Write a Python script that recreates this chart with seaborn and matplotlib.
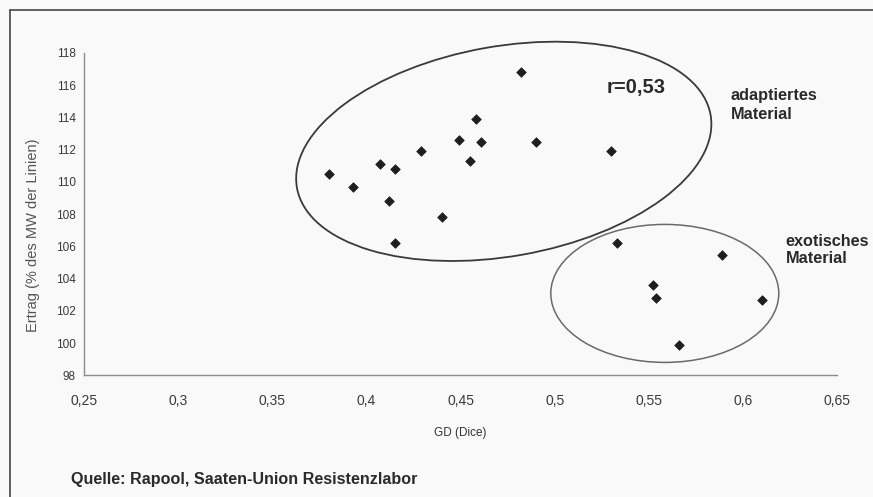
import pandas as pd
import seaborn as sns
import matplotlib.pyplot as plt
from matplotlib.patches import Ellipse
from matplotlib.lines import Line2D
from matplotlib.transforms import ScaledTranslation

# GD (Dice) against yield
gd_adapt = [0.380, 0.393, 0.407, 0.415, 0.412, 0.415, 0.429, 0.440, 0.449,
            0.458, 0.455, 0.461, 0.482, 0.490, 0.530]
ertrag_adapt = [110.5, 109.7, 111.1, 110.8, 108.8, 106.2, 111.9, 107.8, 112.6,
                113.9, 111.3, 112.5, 116.8, 112.5, 111.9]
gd_exot = [0.533, 0.589, 0.552, 0.554, 0.566, 0.610]
ertrag_exot = [106.2, 105.5, 103.6, 102.8, 99.9, 102.7]

x_ticks = [0.25, 0.3, 0.35, 0.4, 0.45, 0.5, 0.55, 0.6, 0.65]
x_ticklabels = ["0,25", "0,3", "0,35", "0,4", "0,45", "0,5", "0,55", "0,6", "0,65"]
y_ticks = list(range(98, 119, 2))

df = pd.DataFrame({
    "gd": gd_adapt + gd_exot,
    "ertrag": ertrag_adapt + ertrag_exot,
})

sns.set_style("white")
plt.rcParams["font.family"] = ["Liberation Sans", "DejaVu Sans"]

bg = "#f9f9f9"
fig = plt.figure(figsize=(8.73, 4.97), dpi=100, facecolor=bg)
ax = fig.add_axes([0.0962, 0.2445, 0.8629, 0.6489])
ax.set_facecolor(bg)

sns.scatterplot(data=df, x="gd", y="ertrag", marker="D", s=24, color="#1e1e1e",
                edgecolor="#1e1e1e", linewidth=0.5, ax=ax, zorder=3)

ax.set_xlim(0.25, 0.65)
ax.set_ylim(98, 118)
ax.set_xticks(x_ticks)
ax.set_xticklabels(x_ticklabels)
ax.set_yticks(y_ticks)

for side in ["top", "right"]:
    ax.spines[side].set_visible(False)
for side in ["left", "bottom"]:
    ax.spines[side].set_color("#8a8a8a")
    ax.spines[side].set_linewidth(1.0)

ax.tick_params(axis="both", direction="out", length=4, width=0.9, color="#8a8a8a",
               labelcolor="#3a3a3a", pad=3)
ax.tick_params(axis="x", labelsize=10, pad=9)
ax.tick_params(axis="y", labelsize=8.5, pad=2)

ax.set_xlabel("GD (Dice)", fontsize=8.5, color="#333333", labelpad=14)
ax.set_ylabel("Ertrag (% des MW der Linien)", fontsize=10.5, color="#555555")
ax.yaxis.set_label_coords(-0.058, 0.436)

# cluster ellipses: centre in data units, size in inches
big = Ellipse((0, 0), 4.2, 2.1, angle=10, fill=False, edgecolor="#3a3a3a", lw=1.3,
              clip_on=False,
              transform=fig.dpi_scale_trans + ScaledTranslation(0.4729, 111.9, ax.transData))
small = Ellipse((0, 0), 2.28, 1.38, angle=0, fill=False, edgecolor="#6a6a6a", lw=1.1,
                clip_on=False,
                transform=fig.dpi_scale_trans + ScaledTranslation(0.5584, 103.09, ax.transData))
ax.add_patch(big)
ax.add_patch(small)

ax.text(0.5274, 115.5, "r=0,53", fontsize=14.5, fontweight="bold", color="#2a2a2a",
        va="baseline")
ax.text(0.5934, 115.85, "adaptiertes\nMaterial", fontsize=11.7, fontweight="bold",
        color="#2a2a2a", va="top", linespacing=1.35)
ax.text(0.6226, 106.8, "exotisches\nMaterial", fontsize=11.7, fontweight="bold",
        color="#2a2a2a", va="top", linespacing=1.2)

fig.text(0.0813, 0.036, "Quelle: Rapool, Saaten-Union Resistenzlabor", fontsize=11.6,
         fontweight="bold", color="#2a2a2a", va="center")

# scanned page frame
fig.add_artist(Line2D([0.0115, 0.0115], [0.0, 0.98], color="#444444", lw=1.2))
fig.add_artist(Line2D([0.0115, 1.0], [0.98, 0.98], color="#444444", lw=1.2))

fig.savefig("out.png", dpi=100, facecolor=bg)
